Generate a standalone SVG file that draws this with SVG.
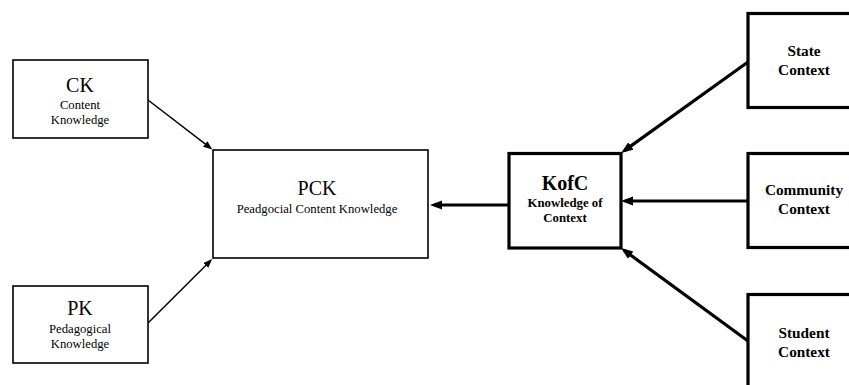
<svg xmlns="http://www.w3.org/2000/svg" width="849" height="385" viewBox="0 0 849 385">
<style>
.thin{fill:#fff;stroke:#000;stroke-width:1.6}
.thick{fill:#fff;stroke:#000;stroke-width:3.2}
text{font-family:'Liberation Serif','DejaVu Serif',serif;fill:#000;text-anchor:middle}
.big{font-size:20px}
.small{font-size:12.7px}
.bbig{font-size:20px;font-weight:bold}
.bsmall{font-size:12.8px;font-weight:bold}
.ctx{font-size:15.3px;font-weight:bold}
.c1{stroke:#000;stroke-width:1.5;fill:none}
.c3{stroke:#000;stroke-width:3.2;fill:none}
</style>
<defs>
<marker id="ah1" markerUnits="userSpaceOnUse" markerWidth="10" markerHeight="8" refX="6" refY="3.5" orient="auto"><path d="M0,0 L9,3.5 L0,7 z" fill="#000"/></marker>
<marker id="ah3" markerUnits="userSpaceOnUse" markerWidth="13" markerHeight="10" refX="8" refY="4.5" orient="auto"><path d="M0,0 L12,4.5 L0,9 z" fill="#000"/></marker>
</defs>
<g id="connectors">
<line class="c1" x1="148" y1="100" x2="210" y2="147.7" marker-end="url(#ah1)"/>
<line class="c1" x1="148" y1="323" x2="210" y2="261.2" marker-end="url(#ah1)"/>
<line class="c3" x1="509" y1="205" x2="434" y2="205" marker-end="url(#ah3)"/>
<line class="c3" x1="748" y1="62" x2="624.4" y2="150.6" marker-end="url(#ah3)"/>
<line class="c3" x1="748" y1="201" x2="625" y2="201" marker-end="url(#ah3)"/>
<line class="c3" x1="748" y1="341" x2="624.2" y2="250.4" marker-end="url(#ah3)"/>
</g>
<g id="ck">
<rect class="thin" x="13" y="60" width="135" height="78"/>
<text class="big" x="80" y="92">CK</text>
<text class="small" x="80" y="109">Content</text>
<text class="small" x="80" y="124">Knowledge</text>
</g>
<g id="pk">
<rect class="thin" x="13" y="286" width="135" height="77"/>
<text class="big" x="80" y="315">PK</text>
<text class="small" x="80" y="333">Pedagogical</text>
<text class="small" x="80" y="348">Knowledge</text>
</g>
<g id="pck">
<rect class="thin" x="213" y="150" width="215" height="108"/>
<text class="big" x="317" y="195">PCK</text>
<text class="small" x="317" y="213">Peadgocial Content Knowledge</text>
</g>
<g id="kofc">
<rect class="thick" x="509" y="153.5" width="112" height="94.5"/>
<text class="bbig" x="565" y="190">KofC</text>
<text class="bsmall" x="565" y="207">Knowledge of</text>
<text class="bsmall" x="565" y="222">Context</text>
</g>
<g id="state">
<rect class="thick" x="748" y="13.5" width="112" height="94"/>
<text class="ctx" x="804" y="56">State</text>
<text class="ctx" x="804" y="75">Context</text>
</g>
<g id="community">
<rect class="thick" x="748" y="153.5" width="112" height="94"/>
<text class="ctx" x="804" y="195">Community</text>
<text class="ctx" x="804" y="214">Context</text>
</g>
<g id="student">
<rect class="thick" x="748" y="294.5" width="112" height="100"/>
<text class="ctx" x="804" y="338">Student</text>
<text class="ctx" x="804" y="357">Context</text>
</g>
</svg>
